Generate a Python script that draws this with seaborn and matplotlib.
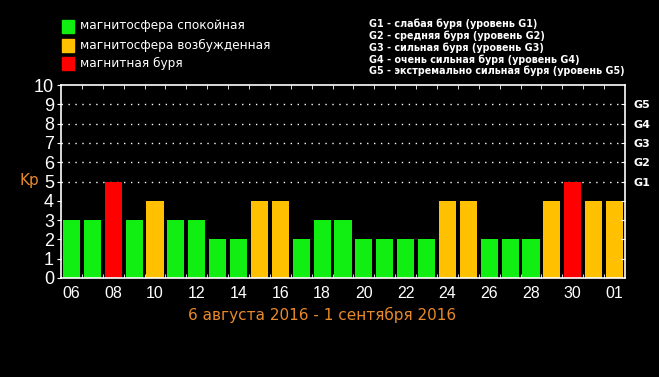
import matplotlib
matplotlib.use("Agg")
import numpy as np
import pandas as pd
import seaborn as sns
from matplotlib import pyplot as plt

days = ["06", "07", "08", "09", "10", "11", "12", "13", "14", "15", "16", "17", "18", "19",
        "20", "21", "22", "23", "24", "25", "26", "27", "28", "29", "30", "31", "01"]
kp = [3, 3, 5, 3, 4, 3, 3, 2, 2, 4, 4, 2, 3, 3,
      2, 2, 2, 2, 4, 4, 2, 2, 2, 4, 5, 4, 4]
state = ["calm" if v < 4 else ("active" if v < 5 else "storm") for v in kp]

legend_left = ["магнитосфера спокойная", "магнитосфера возбужденная", "магнитная буря"]
legend_right = ["G1 - слабая буря (уровень G1)",
                "G2 - средняя буря (уровень G2)",
                "G3 - сильная буря (уровень G3)",
                "G4 - очень сильная буря (уровень G4)",
                "G5 - экстремально сильная буря (уровень G5)"]
g_levels = ["G1", "G2", "G3", "G4", "G5"]
period = "6 августа 2016 - 1 сентября 2016"

palette = {"calm": "#11ee11", "active": "#ffc000", "storm": "#ff0000"}
orange = "#e8892a"

df = pd.DataFrame({"day": days, "kp": kp, "state": state})
df["pos"] = np.arange(len(df))

sns.set_style("dark")
plt.rcParams["font.family"] = ["DejaVu Sans"]

fig = plt.figure(figsize=(6.59, 3.77), dpi=100, facecolor="black")
ax = fig.add_axes([61 / 659, 1 - 278 / 377, 564 / 659, 193 / 377])
ax.set_facecolor("black")

sns.barplot(data=df, x="pos", y="kp", hue="state", palette=palette, dodge=False,
            width=0.82, saturation=1, legend=False, ax=ax, native_scale=True,
            linewidth=0, edgecolor="none")

ax.set_xlim(-0.5, len(days) - 0.5)
ax.set_ylim(0, 10)
ax.set_xlabel("")
ax.set_ylabel("")

for y in range(5, 10):
    ax.axhline(y, color="white", lw=1.0, ls=(0, (1, 4)), zorder=0.5)

for s in ax.spines.values():
    s.set_color("white")
    s.set_linewidth(1.2)

ax.set_xticks(df["pos"][::2])
ax.set_xticklabels(days[::2], color="white", fontsize=11.5, family="Liberation Sans")
ax.set_xticks(np.arange(len(days) - 1) + 0.5, minor=True)
ax.tick_params(axis="x", which="major", length=0, pad=6)
ax.tick_params(axis="x", which="minor", direction="in", length=3, color="white",
               top=True, bottom=True)

ax.set_yticks(range(11))
ax.set_yticklabels([str(i) for i in range(11)], color="white", fontsize=13,
                   family="Liberation Sans")
ax.tick_params(axis="y", which="major", direction="out", length=3, color="white",
               pad=2, left=True)

ax2 = ax.twinx()
ax2.set_ylim(0, 10)
ax2.set_yticks(range(1, 10))
ax2.set_yticklabels([""] * 4 + g_levels, color="white", fontsize=8, fontweight="bold")
ax2.tick_params(axis="y", direction="in", length=3, color="white", pad=6)
for s in ax2.spines.values():
    s.set_visible(False)
ax2.grid(False)
ax.grid(False)

fig.text(29 / 659, 1 - 181 / 377, "Kp", color=orange, fontsize=11, ha="center", va="center")
fig.text(322 / 659, 1 - 315 / 377, period, color=orange, fontsize=11, ha="center", va="center")

for i, (lab, key) in enumerate(zip(legend_left, ["calm", "active", "storm"])):
    yc = [26, 45, 63][i]
    fig.patches.append(plt.Rectangle((62 / 659, 1 - (yc + 6.5) / 377), 12 / 659, 13 / 377,
                                     transform=fig.transFigure, color=palette[key]))
    fig.text(80 / 659, 1 - yc / 377, lab, color="white", fontsize=8.7, ha="left", va="center")

for i, lab in enumerate(legend_right):
    fig.text(369 / 659, 1 - (24 + 11.8 * i) / 377, lab, color="white", fontsize=6.9,
             fontweight="bold", ha="left", va="center")

fig.savefig("out.png", dpi=100, facecolor="black")
